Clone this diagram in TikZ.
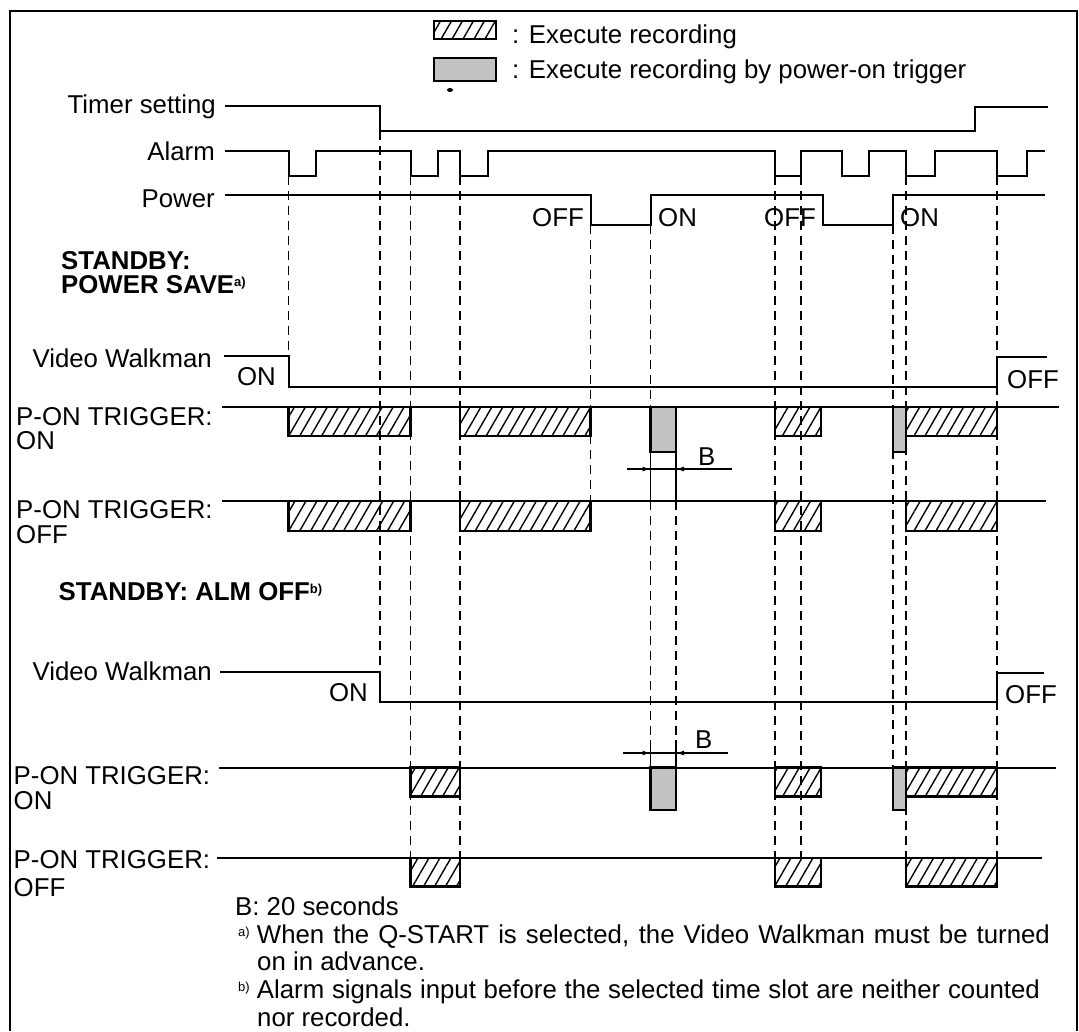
\documentclass[tikz,border=0pt]{standalone}
\usepackage{fontspec}
\setmainfont{Liberation Sans}
\usetikzlibrary{arrows.meta, patterns.meta, positioning}
\tikzstyle{every node}=[font=\fontsize{25.8}{30}\selectfont, inner sep=0pt]
\tikzstyle{wave}=[line width=2pt]
\tikzstyle{guide}=[line width=1.4pt, dash pattern=on 9pt off 6pt]
\tikzstyle{rec}=[line width=2.4pt, pattern={Lines[angle=60,distance=9.5pt,line width=1.4pt]}]
\tikzstyle{trig}=[line width=2.4pt, fill=black!24]
\tikzstyle{lbl}=[anchor=base east]
\tikzstyle{txt}=[anchor=base west]
\newcommand{\note}[1]{\raisebox{7pt}{\fontsize{13}{13}\selectfont #1}}

\begin{document}
\begin{tikzpicture}[x=1pt, y=-1pt, >={Latex[length=8pt,width=5pt]}]
    \useasboundingbox (0,0) rectangle (1079,1031);
    \draw[line width=2pt] (10,1031) -- (10,11) -- (1076.5,11) -- (1076.5,1031);
    % legend
    \draw[rec] (434,21) rectangle (496,39);
    \draw[trig] (434,58) rectangle (496,81);
    \fill (450,90) ellipse (3 and 2);
    \node[txt] (leg1) at (512,43) {: Execute recording};
    \node[txt] (leg2) at (512,78) {: Execute recording by power-on trigger};
    % labels
    \node[lbl] (timer) at (216,113) {Timer setting};
    \node[lbl] (alarm) at (215,160) {Alarm};
    \node[lbl] (power) at (215,207) {Power};
    \node[txt, font=\fontsize{25.8}{30}\selectfont\bfseries] (sbps) at (61,269) {STANDBY:};
    \node[txt, font=\fontsize{25.8}{30}\selectfont\bfseries] (sbps2) at (61,293.5) {POWER SAVE\note{a)}};
    \node[lbl] (vw1) at (212,367.5) {Video Walkman};
    \node[txt] (trig1) at (16,425) {P-ON TRIGGER:};
    \node[txt] (trig1s) at (16,449) {ON};
    \node[txt] (trig2) at (16,518.5) {P-ON TRIGGER:};
    \node[txt] (trig2s) at (16,543) {OFF};
    \node[txt, font=\fontsize{25.8}{30}\selectfont\bfseries] (sbalm) at (58.5,600) {STANDBY: ALM OFF\note{b)}};
    \node[lbl] (vw3) at (212,680) {Video Walkman};
    \node[txt] (trig3) at (13.5,784.5) {P-ON TRIGGER:};
    \node[txt] (trig3s) at (13.5,809) {ON};
    \node[txt] (trig4) at (13.5,868.5) {P-ON TRIGGER:};
    \node[txt] (trig4s) at (13.5,896.5) {OFF};
    % state labels
    \node[lbl] (poff1) at (584,226.5) {OFF};
    \node[txt] (pon1) at (658,226.5) {ON};
    \node[txt] (poff2) at (764,226.5) {OFF};
    \node[txt] (pon2) at (900,226.5) {ON};
    \node[lbl] (vw1on) at (276,385) {ON};
    \node[txt] (vw1off) at (1007,388) {OFF};
    \node[lbl] (vw3on) at (368,701.5) {ON};
    \node[txt] (vw3off) at (1005,703) {OFF};
    \node[txt] (bl1) at (698,465) {B};
    \node[txt] (bl2) at (695,748.5) {B};
    % dashed guides
    \draw[guide] (288.5,175.5) -- (288.5,356);
    \draw[guide] (380,130.5) -- (380,672);
    \draw[guide] (410.5,175.5) -- (410.5,858);
    \draw[guide] (460,175.5) -- (460,858);
    \draw[guide] (590.5,225) -- (590.5,531);
    \draw[guide] (650.5,225) -- (650.5,407);
    \draw[guide] (650.5,501) -- (650.5,740);
    \draw[guide] (676,501) -- (676,740);
    \draw[guide] (775,176) -- (775,858);
    \draw[guide] (801,176) -- (801,858);
    \draw[guide] (893,225) -- (893,767.5);
    \draw[guide] (906,176) -- (906,858);
    \draw[guide] (997,176) -- (997,858);
    \draw[line width=1.4pt] (650.5,452) -- (650.5,501) (676,452) -- (676,501);
    \draw[line width=1.4pt] (650.5,740) -- (650.5,767.5) (676,740) -- (676,767.5);
    % waveforms
    \draw[wave] (225,105.5) -- (380,105.5) -- (380,130.5) -- (975,130.5) -- (975,107) -- (1048,107);
    \draw[wave] (225,151) -- (288.5,151) -- (288.5,175.5) -- (316,175.5) -- (316,151)
        -- (410.5,151) -- (410.5,175.5) -- (437.5,175.5) -- (437.5,151) -- (460,151) -- (460,175.5)
        -- (488,175.5) -- (488,151) -- (775,151) -- (775,176) -- (801,176) -- (801,151)
        -- (842,151) -- (842,176) -- (869,176) -- (869,151) -- (906,151) -- (906,176)
        -- (935,176) -- (935,151) -- (997,151) -- (997,176) -- (1026.5,176) -- (1026.5,151) -- (1045,151);
    \draw[wave] (225,195) -- (590.5,195) -- (590.5,225) -- (650.5,225) -- (650.5,195)
        -- (823,195) -- (823,225) -- (893,225) -- (893,195) -- (1045,195);
    \draw[wave] (224,356) -- (288.5,356) -- (288.5,386.5) -- (997,386.5) -- (997,357) -- (1047,357);
    \draw[wave] (220,672) -- (380,672) -- (380,702) -- (997,702) -- (997,672.5) -- (1044,672.5);
    \draw[wave] (222,407) -- (1059,407);
    \draw[wave] (222,501) -- (1046,501);
    \draw[wave] (219,767.5) -- (1056,767.5);
    \draw[wave] (217,858) -- (1042,858);
    % recording blocks
    \draw[rec] (288.5,407) rectangle (410.5,436);
    \draw[rec] (460,407) rectangle (590.5,436);
    \draw[trig] (650.5,407) rectangle (676,452);
    \draw[rec] (775,407) rectangle (821,436);
    \draw[trig] (893,407) rectangle (906,452);
    \draw[rec] (906,407) rectangle (997,436);
    \draw[rec] (288.5,501) rectangle (410.5,531);
    \draw[rec] (460,501) rectangle (590.5,531);
    \draw[rec] (775,501) rectangle (821,531);
    \draw[rec] (906,501) rectangle (997,531);
    \draw[rec] (410.5,767.5) rectangle (460,796.5);
    \draw[trig] (650.5,767.5) rectangle (676,810);
    \draw[rec] (775,767.5) rectangle (821,796.5);
    \draw[trig] (893,767.5) rectangle (906,810);
    \draw[rec] (906,767.5) rectangle (997,796.5);
    \draw[rec] (410.5,858) rectangle (460,886.5);
    \draw[rec] (775,858) rectangle (821,886.5);
    \draw[rec] (906,858) rectangle (997,886.5);
    % B dimensions
    \coordinate (b1s) at (627,469);
    \coordinate (b1l) at (650.5,469);
    \coordinate (b1r) at (676,469);
    \coordinate (b1e) at (732,469);
    \draw[line width=1.2pt] (b1s) -- (b1e);
    \draw[line width=1.2pt, ->] (b1s) -- (b1l);
    \draw[line width=1.2pt, ->] (b1e) -- (b1r);
    \coordinate (b2s) at (623,753);
    \coordinate (b2l) at (650.5,753);
    \coordinate (b2r) at (676,753);
    \coordinate (b2e) at (728,753);
    \draw[line width=1.2pt] (b2s) -- (b2e);
    \draw[line width=1.2pt, ->] (b2s) -- (b2l);
    \draw[line width=1.2pt, ->] (b2e) -- (b2r);
    % notes
    \node[txt] (nb) at (235,915.5) {B: 20 seconds};
    \node[txt] (na) at (238,943.5) {\note{a)} \makebox[793pt][s]{When the Q-START is selected, the Video Walkman must be turned}};
    \node[txt] (na2) at (257,970) {on in advance.};
    \node[txt] (nb2) at (238,998.5) {\note{b)} \makebox[783pt][s]{Alarm signals input before the selected time slot are neither counted}};
    \node[txt] (nb3) at (257,1026.5) {nor recorded.};
\end{tikzpicture}
\end{document}
